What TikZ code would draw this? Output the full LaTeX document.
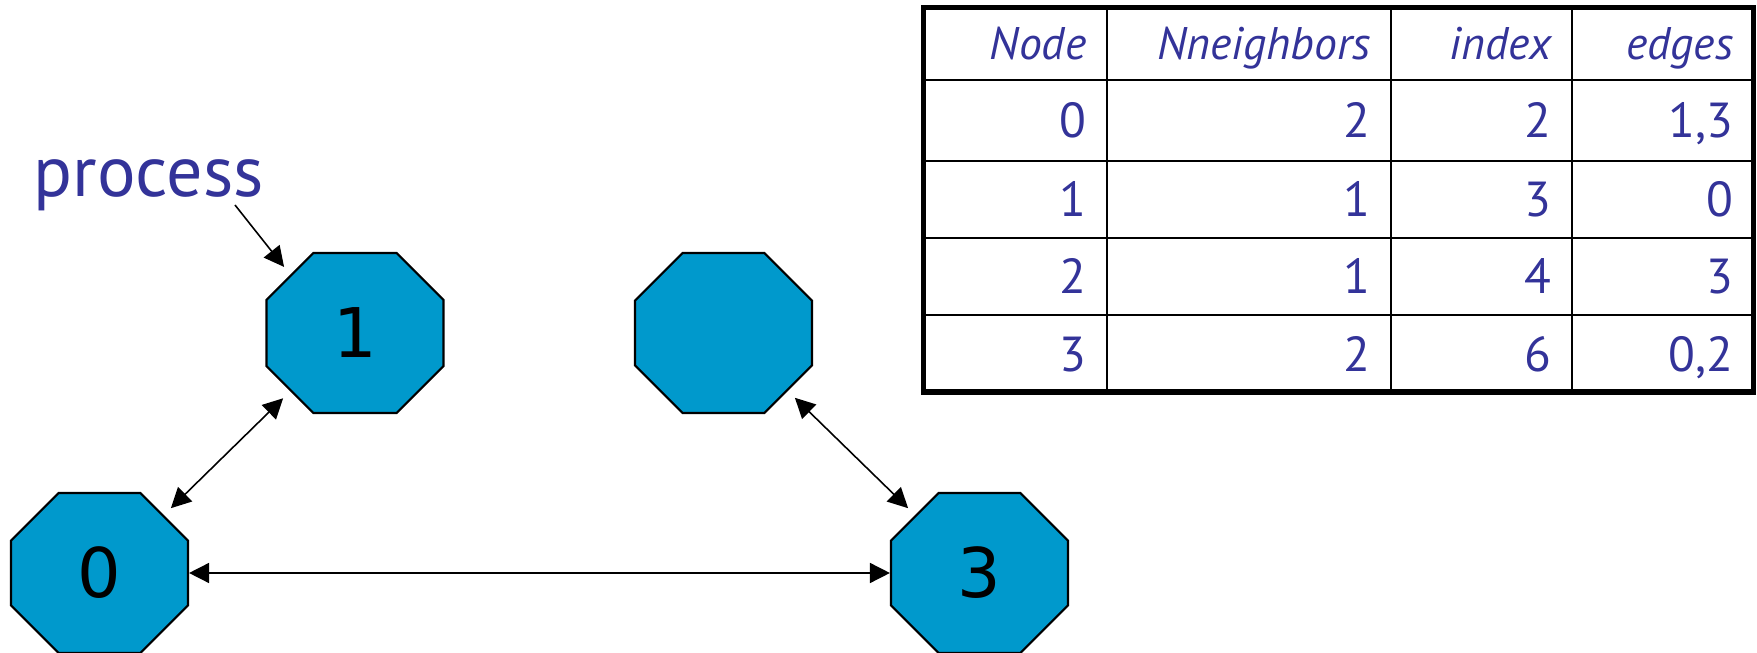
\documentclass[tikz,border=0pt]{standalone}
\usepackage{fontspec}
\setmainfont{PT Sans}
\newfontfamily\digitfont{DejaVu Sans}
\usetikzlibrary{arrows.meta,shapes.misc}

\definecolor{procfill}{RGB}{0,153,204}
\definecolor{tabtext}{RGB}{51,51,153}

\tikzset{
    proc/.style={chamfered rectangle, chamfered rectangle sep=0.46cm,
        minimum width=1.77cm, minimum height=1.60cm, inner sep=0pt,
        draw, line width=0.6pt, fill=procfill,
        font=\digitfont\fontsize{19.5}{22}\selectfont},
    link/.style={<->, line width=0.45pt},
    cell/.style={anchor=east, inner sep=0pt, text depth=0pt, text=tabtext},
}

\begin{document}
\begin{tikzpicture}[>={Triangle[length=5.7pt,width=5.7pt]}]
\useasboundingbox (0,0) rectangle (17.57,6.52);

% ---- Processes (octagons) ----
            \node[proc] (p0) at (0.995,0.79) {0};
            \node[proc] (p1) at (3.55,3.19) {1};
            \node[proc] (p2) at (7.235,3.19) {\phantom{0}}; % unlabelled one
            \node[proc] (p3) at (9.795,0.79) {3};

% ---- Label pointing at process 1 ----
            \node[anchor=base west, inner sep=0pt, text=tabtext,
                  font=\fontsize{20.5}{24}\selectfont] (lbl) at (0.33,4.55) {process};
            \coordinate (lbltail) at (2.35,4.47);
            \draw[->, line width=0.45pt, shorten >=2.8pt] (lbltail) -- (p1.138);

% ---- Links between processes ----
            \draw[link, shorten <=2.8pt, shorten >=2.8pt] (p0.42) -- (p1.222);
            \draw[link, shorten <=2.8pt, shorten >=2.8pt] (p2.318) -- (p3.138);
            \draw[link] (p0) -- (p3);

% ---- Table grid ----
            \foreach \x in {11.07,13.91,15.72} {
                \draw[line width=0.7pt] (\x,6.45) -- (\x,2.6);
            }
            \foreach \y in {5.72,4.91,4.14,3.37} {
                \draw[line width=0.7pt] (9.235,\y) -- (17.535,\y);
            }
            \draw[line width=1.6pt] (9.235,2.6) rectangle (17.535,6.445);

% ---- Table header ----
            \foreach \x/\lab/\c in {10.87/Node/1,13.71/Nneighbors/2,15.52/index/3,17.34/edges/4} {
                \node[cell, text height=9pt, font=\itshape\fontsize{13}{15}\selectfont]
                    (h\c) at (\x,6.085) {\lab};
            }

% ---- Table rows ----
            \foreach \r/\y/\a/\b/\c/\d in {0/5.315/0/2/2/{1,3},
                                            1/4.525/1/1/3/0,
                                            2/3.755/2/1/4/3,
                                            3/2.98/3/2/6/{0,2}} {
                \node[cell, text height=9.8pt, font=\fontsize{14}{16}\selectfont] (r\r a) at (10.87,\y) {\a};
                \node[cell, text height=9.8pt, font=\fontsize{14}{16}\selectfont] (r\r b) at (13.71,\y) {\b};
                \node[cell, text height=9.8pt, font=\fontsize{14}{16}\selectfont] (r\r c) at (15.52,\y) {\c};
                \node[cell, text height=9.8pt, font=\fontsize{14}{16}\selectfont] (r\r d) at (17.34,\y) {\d};
            }

\end{tikzpicture}
\end{document}
